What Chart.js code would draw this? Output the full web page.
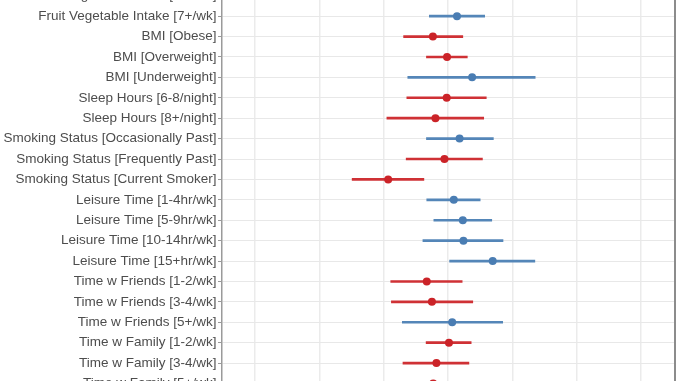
<!DOCTYPE html>
<html>
<head>
<meta charset="utf-8">
<script src="https://cdn.jsdelivr.net/npm/chart.js@4/dist/chart.umd.min.js"></script>
<style>
  html, body { margin: 0; padding: 0; background: #ffffff; overflow: hidden; width: 678px; height: 381px; }
  #wrap { position: absolute; left: 0; top: -30px; width: 678px; height: 441px; }
</style>
</head>
<body>
<div id="wrap"><canvas id="c"></canvas></div>
<script>
// ---- data ----
const rowLabels = [
  "Fruit Vegetable Intake [3-6/wk]",
  "Fruit Vegetable Intake [7+/wk]",
  "BMI [Obese]",
  "BMI [Overweight]",
  "BMI [Underweight]",
  "Sleep Hours [6-8/night]",
  "Sleep Hours [8+/night]",
  "Smoking Status [Occasionally Past]",
  "Smoking Status [Frequently Past]",
  "Smoking Status [Current Smoker]",
  "Leisure Time [1-4hr/wk]",
  "Leisure Time [5-9hr/wk]",
  "Leisure Time [10-14hr/wk]",
  "Leisure Time [15+hr/wk]",
  "Time w Friends [1-2/wk]",
  "Time w Friends [3-4/wk]",
  "Time w Friends [5+/wk]",
  "Time w Family [1-2/wk]",
  "Time w Family [3-4/wk]",
  "Time w Family [5+/wk]"
];
const estimate = [0.95, 1.028, 0.953, 0.997, 1.075, 0.996, 0.961, 1.036, 0.989, 0.814, 1.018, 1.046, 1.048, 1.139, 0.934, 0.950, 1.013, 1.003, 0.964, 0.954];
const lower    = [0.87, 0.942, 0.862, 0.933, 0.875, 0.872, 0.810, 0.933, 0.870, 0.702, 0.934, 0.956, 0.922, 1.005, 0.822, 0.824, 0.858, 0.932, 0.860, 0.856];
const upper    = [1.04, 1.114, 1.046, 1.060, 1.271, 1.119, 1.111, 1.141, 1.107, 0.925, 1.100, 1.136, 1.171, 1.270, 1.044, 1.077, 1.170, 1.072, 1.065, 1.062];
const effect   = ["neg", "pos", "neg", "neg", "pos", "neg", "neg", "pos", "neg", "neg", "pos", "pos", "pos", "pos", "neg", "neg", "pos", "neg", "neg", "neg"];
const xTicks   = [0.4, 0.6, 0.8, 1.0, 1.2, 1.4, 1.6];

// ---- styles ----
const COLORS = { pos: "#4a7db3", neg: "#cb2328" };
const LINE_COLORS = { pos: "#5486b8", neg: "#cf3135" };

Chart.defaults.font.family = "'Liberation Sans', Arial, Helvetica, sans-serif";

const borderPlugin = {
  id: "panelBorder",
  afterDatasetsDraw(chart) {
    const { ctx, chartArea } = chart;
    ctx.save();
    ctx.strokeStyle = "#8c8c8c";
    ctx.lineWidth = 2;
    ctx.beginPath();
    ctx.moveTo(chartArea.right + 1, chartArea.top);
    ctx.lineTo(chartArea.right + 1, chartArea.bottom);
    ctx.stroke();
    ctx.restore();
  }
};

new Chart(document.getElementById("c"), {
  type: "scatter",
  data: {
    datasets: [
      {
        type: "bar",
        indexAxis: "y",
        order: 2,
        data: rowLabels.map((_, i) => ({ y: i, x: [lower[i], upper[i]] })),
        backgroundColor: effect.map(e => LINE_COLORS[e]),
        borderWidth: 0,
        barThickness: 2
      },
      {
        type: "scatter",
        order: 1,
        data: rowLabels.map((_, i) => ({ x: estimate[i], y: i })),
        pointRadius: 4,
        pointBorderWidth: 0,
        pointBackgroundColor: effect.map(e => COLORS[e])
      }
    ]
  },
  options: {
    responsive: true,
    maintainAspectRatio: false,
    animation: false,
    events: [],
    layout: { padding: { left: 0, right: 4, top: 0, bottom: 0 } },
    plugins: { legend: { display: false }, tooltip: { enabled: false } },
    scales: {
      x: {
        type: "linear",
        min: 0.2974,
        max: 1.7026,
        offset: false,
        beginAtZero: false,
        afterBuildTicks: s => { s.ticks = xTicks.map(v => ({ value: v })); },
        afterFit: s => { s.height = 0; s.paddingLeft = 0; s.paddingRight = 0; },
        ticks: { display: false },
        grid: { color: "#ebebeb", lineWidth: 1.5, drawTicks: false, offset: false },
        border: { display: false }
      },
      y: {
        type: "linear",
        reverse: true,
        min: -1.065,
        max: 20.151,
        offset: false,
        afterBuildTicks: s => { s.ticks = rowLabels.map((_, i) => ({ value: i })); },
        afterFit: s => { s.width = 222; s.paddingTop = 0; s.paddingBottom = 0; },
        ticks: {
          autoSkip: false,
          padding: 1.5,
          color: "#4d4d4d",
          font: { size: 13.5 },
          callback: v => rowLabels[v]
        },
        grid: { color: "#e8e8e8", lineWidth: 1, tickLength: 4, tickColor: "#999999", offset: false },
        border: { display: true, color: "#9a9a9a", width: 1.5 }
      }
    }
  },
  plugins: [borderPlugin]
});
</script>
</body>
</html>
